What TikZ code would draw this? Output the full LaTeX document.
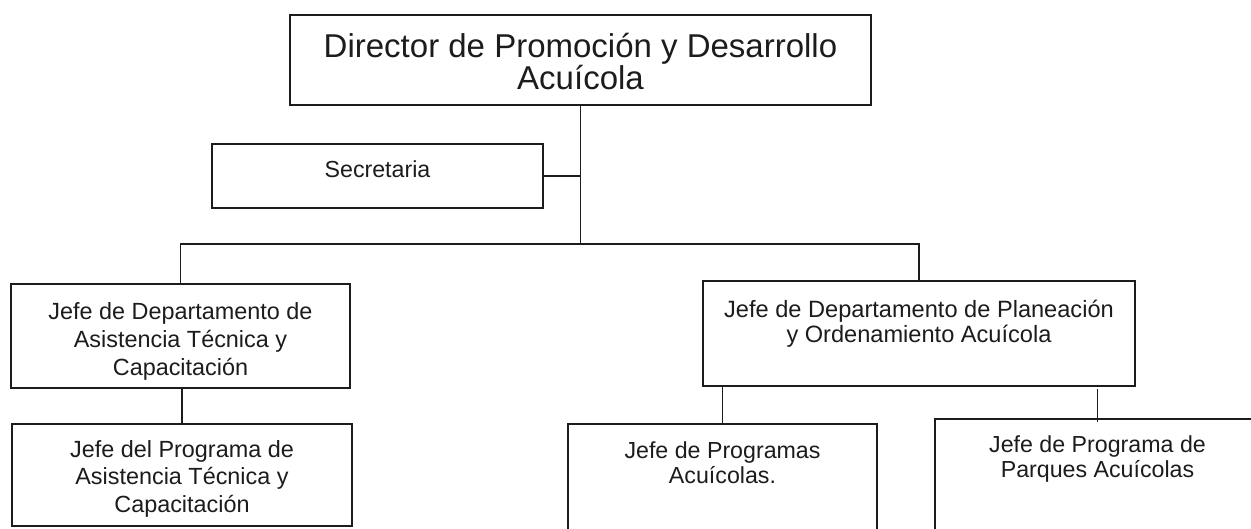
\documentclass[tikz,border=0pt]{standalone}
\usepackage{fontspec}
\setmainfont{Liberation Sans}
\usetikzlibrary{calc}
\definecolor{ink}{HTML}{1C1C1C}
\tikzset{
  orgbox/.style={draw=ink, line width=0.9pt, rectangle, inner sep=0pt, fill=none},
  lbl/.style={text=ink, inner sep=0pt, align=center},
  conn/.style={draw=ink, line width=0.9pt}
}
\begin{document}
\begin{tikzpicture}[x=0.5pt, y=-0.5pt]
\useasboundingbox (0,0) rectangle (1251,529);
\clip (0,0) rectangle (1251,529);
\fill[white] (0,0) rectangle (1251,529);
% boxes
\node[orgbox, minimum width=290.5pt, minimum height=45pt] (director) at (580.5,60) {};
\node[orgbox, minimum width=165.5pt, minimum height=32pt] (secretaria) at (377.5,176) {};
\node[orgbox, minimum width=169.5pt, minimum height=52pt] (dept1) at (180.5,336) {};
\node[orgbox, minimum width=216pt, minimum height=52.5pt] (dept2) at (919,333.5) {};
\node[orgbox, minimum width=170pt, minimum height=51pt] (prog1) at (182,475) {};
\node[orgbox, minimum width=154.5pt, minimum height=68pt] (prog2) at (722.5,492) {};
\node[orgbox, minimum width=162.5pt, minimum height=70.5pt] (prog3) at (1097.5,489.5) {};
% texts
\node[lbl, anchor=north, font={\fontsize{16.5}{16}\selectfont}] (tdirector) at (580.5,33) {Director de Promoción y Desarrollo\\Acuícola};
\node[lbl, anchor=base, font={\fontsize{11.6}{14}\selectfont}] (tsecretaria) at (377.5,177) {Secretaria};
\node[lbl, anchor=north, font={\fontsize{11.7}{14}\selectfont}] (tdept1) at (180.5,302) {Jefe de Departamento de\\Asistencia Técnica y\\Capacitación};
\node[lbl, anchor=north, font={\fontsize{11.8}{12.5}\selectfont}] (tdept2) at (919,300) {Jefe de Departamento de Planeación\\y Ordenamiento Acuícola};
\node[lbl, anchor=north, font={\fontsize{11.7}{13.75}\selectfont}] (tprog1) at (182,440) {Jefe del Programa de\\Asistencia Técnica y\\Capacitación};
\node[lbl, anchor=north, font={\fontsize{11.6}{12.5}\selectfont}] (tprog2) at (722.5,441) {Jefe de Programas\\Acuícolas.};
\node[lbl, anchor=north, font={\fontsize{11.6}{12.5}\selectfont}] (tprog3) at (1097.5,435) {Jefe de Programa de\\Parques Acuícolas};
% connectors
\coordinate (bus) at (580.5,244);
\draw[conn] (director.south) -- (bus);
\draw[conn] (secretaria.east) -- (secretaria.east -| director.south);
\draw[conn] (dept1.north) -- (dept1.north |- bus) -- (dept2.north |- bus) -- (dept2.north);
\draw[conn] (prog1.north) -- (prog1.north |- dept1.south);
\draw[conn] (prog2.north) -- (prog2.north |- dept2.south);
\draw[conn] ($(prog3.north)+(0,4)$) -- ($(prog3.north |- dept2.south)+(0,2)$);
\end{tikzpicture}
\end{document}
